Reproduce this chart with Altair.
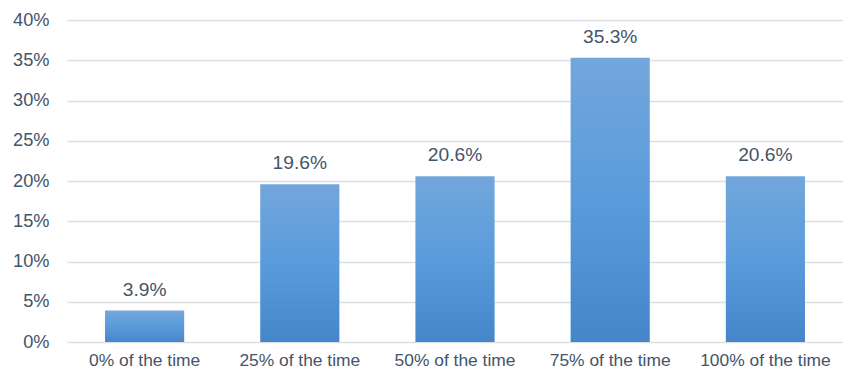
import altair as alt
import pandas as pd

categories = ["0% of the time", "25% of the time", "50% of the time", "75% of the time", "100% of the time"]
values = [0.039, 0.196, 0.206, 0.353, 0.206]
labels = ["3.9%", "19.6%", "20.6%", "35.3%", "20.6%"]

df = pd.DataFrame({"cat": categories, "val": values, "lab": labels})

font = "Liberation Sans"
txt_color = "#44546a"

x = alt.X("cat:N", sort=categories, title=None,
          scale=alt.Scale(paddingInner=0.49, paddingOuter=0.245),
          axis=alt.Axis(labelAngle=0, labelFont=font, labelFontSize=17.4, labelColor=txt_color,
                        ticks=False, domain=False, labelPadding=9))
y = alt.Y("val:Q", title=None,
          scale=alt.Scale(domain=[0, 0.4], nice=False),
          axis=alt.Axis(format=".0%", values=[0, 0.05, 0.1, 0.15, 0.2, 0.25, 0.3, 0.35, 0.4],
                        labelFont=font, labelFontSize=18.2, labelColor=txt_color,
                        ticks=False, domain=False, labelPadding=18,
                        gridColor="#dcdfe3", gridWidth=1.5))

bars = alt.Chart(df).mark_bar(
    color=alt.Gradient(
        gradient="linear", x1=0, y1=0, x2=0, y2=1,
        stops=[alt.GradientStop(color="#72a7dc", offset=0),
               alt.GradientStop(color="#5a9bdb", offset=0.5),
               alt.GradientStop(color="#4486c8", offset=1)]
    )
).encode(x=x, y=y)

text = alt.Chart(df).mark_text(
    baseline="alphabetic", dy=-15, font=font, fontSize=19.2, color=txt_color
).encode(x=alt.X("cat:N", sort=categories), y="val:Q", text="lab:N")

chart = (bars + text).properties(
    width=776, height=322,
    autosize=alt.AutoSizeParams(type="none"),
    padding={"left": 67, "top": 20, "right": 0, "bottom": 29},
).configure_view(stroke=None)

chart.save("out.html", embed_options={"renderer": "svg", "actions": False})
